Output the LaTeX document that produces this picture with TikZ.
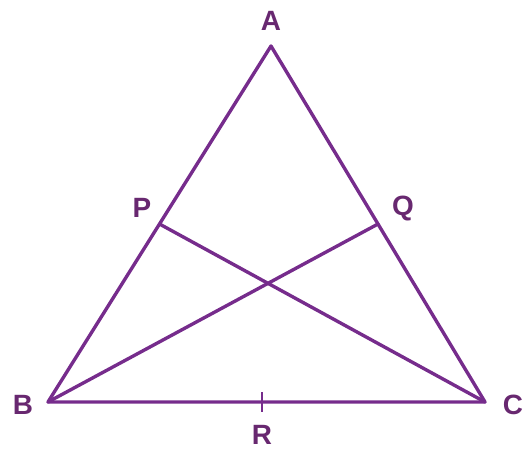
\documentclass[tikz,border=0pt]{standalone}
\usepackage{fontspec}
\setmainfont{Liberation Sans}
\usepackage{xcolor}
\usetikzlibrary{calc}
\definecolor{triline}{RGB}{118,44,140}
\definecolor{trilabel}{RGB}{104,40,112}

\begin{document}
\begin{tikzpicture}[x=1bp,y=-1bp,line width=3.4pt,line join=round,line cap=round,
  lbl/.style={text=trilabel,font=\fontsize{28}{28}\selectfont\bfseries,inner sep=0pt}]
\useasboundingbox (0,0) rectangle (524,453);
\coordinate (A) at (271,46);
\coordinate (B) at (48,402);
\coordinate (C) at (485,402);
\coordinate (P) at ($(A)!0.5!(B)$);
\coordinate (Q) at ($(A)!0.5!(C)$);
\coordinate (R) at ($(B)!0.49!(C)$);
\draw[triline] (A) -- (B) -- (C) -- cycle;
\draw[triline] (B) -- (Q);
\draw[triline] (C) -- (P);
\draw[triline,line width=2.6pt,line cap=butt] ($(R)+(0,-10)$) -- ($(R)+(0,10)$);
\node[lbl] (lA) at (271,21) {A};
\node[lbl] (lB) at (23,405) {B};
\node[lbl] (lC) at (513,405) {C};
\node[lbl] (lP) at (142,208) {P};
\node[lbl] (lQ) at (403,209) {Q};
\node[lbl] (lR) at (262,435) {R};
\end{tikzpicture}
\end{document}
